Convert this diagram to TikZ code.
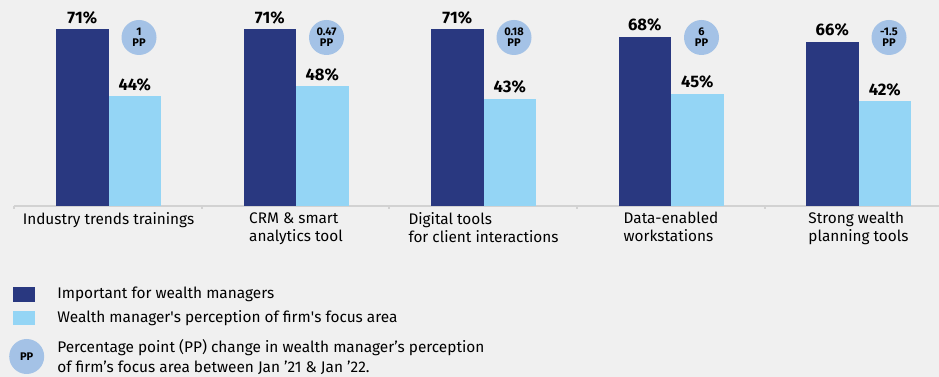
\documentclass[tikz,border=0pt]{standalone}
\usepackage{fontspec}
\setmainfont{Fira Sans}
\definecolor{impblue}{HTML}{293880}
\definecolor{perblue}{HTML}{94D5F5}
\definecolor{ppblue}{HTML}{A4C2E6}
\definecolor{bggrey}{HTML}{F0F0F0}
\definecolor{axisgrey}{HTML}{D2D2D2}
\tikzset{
	valuelabel/.style={inner sep=0pt, font=\fontsize{12.5}{14}\selectfont\bfseries},
	ppbubble/.style={circle, fill=ppblue, minimum size=26.25pt, inner sep=0pt, align=center, font=\fontsize{8.3}{8.4}\selectfont\bfseries},
	catlabel/.style={anchor=north, align=left, inner sep=0pt, font=\fontsize{11.5}{13.5}\selectfont},
	legendtext/.style={anchor=west, align=left, inner sep=0pt, font=\fontsize{11.55}{15}\selectfont}
}
\begin{document}
\begin{tikzpicture}[x=0.75pt,y=-0.75pt]
	\fill[bggrey] (0,0) rectangle (939,377);
	\useasboundingbox (0,0) rectangle (939,377);
	% axis
	\draw[axisgrey, line width=0.8pt] (14,206) -- (939,206);
	\foreach \t in {14,202,389,577,765}
		\draw[axisgrey, line width=0.8pt] (\t,206) -- (\t,209);
	% bars
	\foreach \i/\imp/\per/\pp/\lab in {0/71/44/1/{Industry trends trainings}, 1/71/48/0.47/{CRM \& smart\\analytics tool}, 2/71/43/0.18/{Digital tools\\for client interactions}, 3/68/45/6/{Data-enabled\\workstations}, 4/66/42/-1.5/{Strong wealth\\planning tools}} {
		\pgfmathsetmacro{\xa}{56+187.5*\i}
		\fill[impblue] (\xa,206) rectangle ({\xa+52.5},{206-2.49*\imp});
		\fill[perblue] ({\xa+52.5},206) rectangle ({\xa+105},{206-2.49*\per});
		\node[valuelabel] (impval\i) at ({\xa+26.25},{206-2.49*\imp-11.5}) {\imp\%};
		\node[valuelabel] (perval\i) at ({\xa+78.75},{206-2.49*\per-12}) {\per\%};
		\node[ppbubble] (pp\i) at ({\xa+83},37.5) {\pp\\PP};
		\node[catlabel] (cat\i) at ({\xa+52.5},212) {\lab};
	}
	% legend
	\fill[impblue] (13,287.5) rectangle (35,302);
	\node[legendtext] (legimp) at (57,294.5) {Important for wealth managers};
	\fill[perblue] (13,311) rectangle (35,325);
	\node[legendtext] (legper) at (57,318) {Wealth manager\textquotesingle s perception of firm\textquotesingle s focus area};
	\node[ppbubble] (legpp) at (26.7,356.5) {PP};
	\node[legendtext] (legpptext) at (57,357) {Percentage point (PP) change in wealth manager’s perception\\of firm’s focus area between Jan ’21 \& Jan ’22.};
\end{tikzpicture}
\end{document}
